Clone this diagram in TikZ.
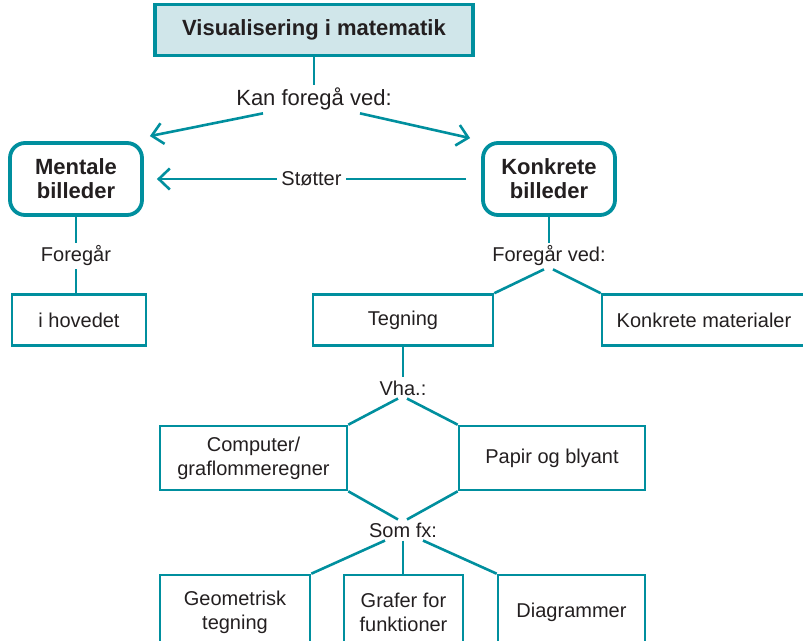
\documentclass[tikz,border=0pt]{standalone}
\usepackage{fontspec}
\setmainfont{Liberation Sans}
\usetikzlibrary{arrows.meta}
\definecolor{vteal}{RGB}{0,143,158}
\definecolor{vlight}{RGB}{208,230,234}
\definecolor{vtext}{RGB}{35,31,32}
\begin{document}
\begin{tikzpicture}[x=1pt,y=-1pt,
    every node/.style={text=vtext,font=\fontsize{20}{24}\selectfont},
    titlebox/.style={draw=vteal,fill=vlight,line width=3.3pt,minimum width=318pt,minimum height=51pt,
      font=\fontsize{22}{26}\selectfont\bfseries},
    mainbox/.style={draw=vteal,line width=3.8pt,rounded corners=15pt,minimum width=132pt,minimum height=72pt,
      align=center,font=\fontsize{22}{24}\selectfont\bfseries},
    box/.style={draw=vteal,line width=2.6pt,minimum height=51pt,align=center},
    lbl/.style={inner sep=3pt},
    link/.style={draw=vteal,line width=2.6pt},
    arr/.style={link,-{Straight Barb[length=11pt,width=21pt]}}]
  \useasboundingbox (0,0) rectangle (803,640);
  \clip (0,0) rectangle (803,640);
  \node[titlebox] (vis) at (314,30) {Visualisering i matematik};
  \node[lbl,font=\fontsize{22}{26}\selectfont] (kan) at (314,99) {Kan foregå ved:};
  \node[mainbox] (ment) at (76,179) {Mentale\\billeder};
  \node[mainbox] (konk) at (549,179) {Konkrete\\billeder};
  \node[lbl] (fg) at (76,256) {Foregår};
  \node[lbl] (fgv) at (549,256) {Foregår ved:};
  \node[box,minimum width=134pt] (hov) at (79,320) {i hovedet};
  \node[box,minimum width=210pt] (kmat) at (707,320) {\hspace*{-6pt}Konkrete materialer};
  \node[box,minimum width=180pt] (teg) at (403,320) {Tegning};
  \node[lbl] (vha) at (403,388) {Vha.:};
  \node[box,minimum width=187pt,minimum height=64pt] (comp) at (253.5,458) {Computer/\\graflommeregner};
  \node[box,minimum width=186pt,minimum height=64pt] (pap) at (552,458) {Papir og blyant};
  \node[lbl] (som) at (403,530) {Som fx:};
  \node[box,minimum width=150pt,minimum height=74pt] (geo) at (235,612) {Geometrisk\\tegning};
  \node[box,minimum width=119pt,minimum height=74pt] (graf) at (403.5,612) {Grafer for\\funktioner};
  \node[box,minimum width=147pt,minimum height=74pt] (diag) at (571.5,612) {Diagrammer};
  \begin{scope}[link]
    \draw (vis) -- (kan);
    \draw[arr] ([xshift=-51pt]kan.south) -- ([shift={(6,-5)}]ment.north east);
    \draw[arr] ([xshift=46pt]kan.south) -- ([shift={(-11,-3)}]konk.north west);
    \draw[arr] ([xshift=-15pt]konk.west) -- node[fill=white,inner xsep=4pt,inner ysep=0pt]{Støtter} ([xshift=13pt]ment.east);
    \draw (ment) -- (fg);
    \draw (fg) -- (fg.south |- hov.north);
    \draw (konk) -- (fgv);
    \draw ([xshift=-5pt]fgv.south) -- (teg.north east);
    \draw ([xshift=4pt]fgv.south) -- (kmat.north west);
    \draw (teg) -- (vha);
    \draw ([xshift=-5pt]vha.south) -- (comp.north east);
    \draw ([xshift=4pt]vha.south) -- (pap.north west);
    \draw (comp.south east) -- ([xshift=-5pt]som.north);
    \draw (pap.south west) -- ([xshift=4pt]som.north);
    \draw ([xshift=-18pt]som.south) -- (geo.north east);
    \draw (som.south) -- (som.south |- graf.north);
    \draw ([xshift=20pt]som.south) -- (diag.north west);
  \end{scope}
\end{tikzpicture}
\end{document}
